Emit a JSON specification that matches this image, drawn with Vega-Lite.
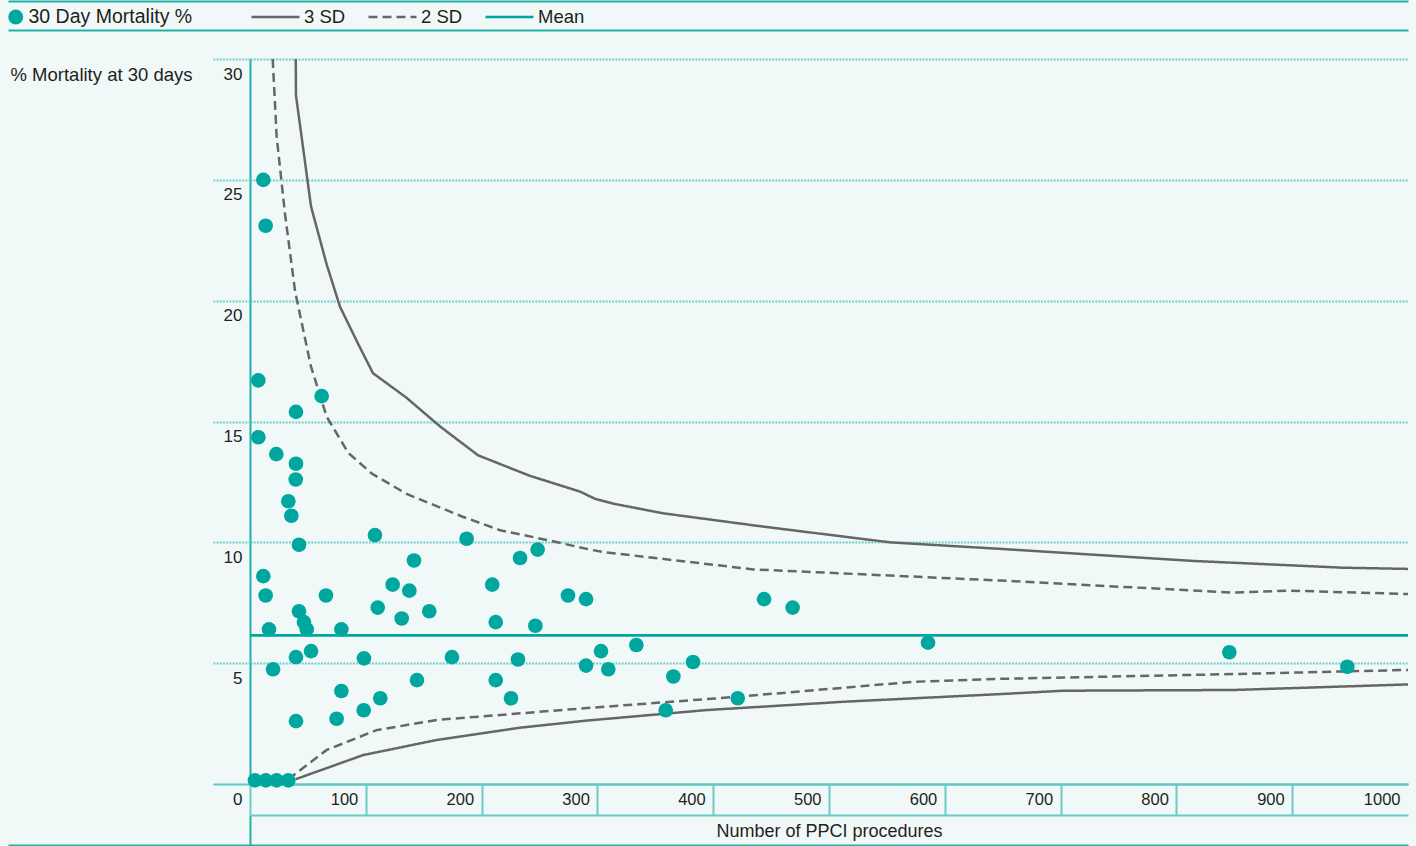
{
  "$schema": "https://vega.github.io/schema/vega-lite/v6.json",
  "width": 1158,
  "height": 846,
  "autosize": {"type": "none"},
  "padding": {"left": 250, "top": 0, "right": 8, "bottom": 0},
  "background": "#f1f9f8",
  "config": {
    "font": "Liberation Sans",
    "view": {"stroke": null},
    "axis": {"labelColor": "#231f20", "titleColor": "#231f20", "titleFontWeight": "normal"},
    "legend": {"labelColor": "#231f20", "labelFontSize": 18.5, "labelLimit": 400, "padding": 0, "titlePadding": 0}
  },
  "datasets": {
    "hospitals": [
      {"procedures": 11.5, "mortality": 25.0}, {"procedures": 13.5, "mortality": 23.1},
      {"procedures": 7.2, "mortality": 16.7}, {"procedures": 39.7, "mortality": 15.4},
      {"procedures": 61.9, "mortality": 16.05}, {"procedures": 7.2, "mortality": 14.35},
      {"procedures": 22.7, "mortality": 13.65}, {"procedures": 39.7, "mortality": 13.25},
      {"procedures": 39.5, "mortality": 12.6}, {"procedures": 33.1, "mortality": 11.7},
      {"procedures": 35.7, "mortality": 11.1}, {"procedures": 42.3, "mortality": 9.9},
      {"procedures": 107.9, "mortality": 10.3}, {"procedures": 187.1, "mortality": 10.15},
      {"procedures": 141.6, "mortality": 9.25}, {"procedures": 233.2, "mortality": 9.35},
      {"procedures": 248.4, "mortality": 9.7}, {"procedures": 11.5, "mortality": 8.6},
      {"procedures": 13.5, "mortality": 7.8}, {"procedures": 65.6, "mortality": 7.8},
      {"procedures": 123.2, "mortality": 8.25}, {"procedures": 137.6, "mortality": 8.0},
      {"procedures": 209.2, "mortality": 8.25}, {"procedures": 274.6, "mortality": 7.8},
      {"procedures": 290.2, "mortality": 7.65}, {"procedures": 110.3, "mortality": 7.3},
      {"procedures": 154.8, "mortality": 7.15}, {"procedures": 42.3, "mortality": 7.15},
      {"procedures": 46.6, "mortality": 6.7}, {"procedures": 49.0, "mortality": 6.4},
      {"procedures": 16.4, "mortality": 6.4}, {"procedures": 78.9, "mortality": 6.4},
      {"procedures": 131.0, "mortality": 6.85}, {"procedures": 212.2, "mortality": 6.7},
      {"procedures": 246.4, "mortality": 6.55}, {"procedures": 52.7, "mortality": 5.5},
      {"procedures": 39.7, "mortality": 5.25}, {"procedures": 98.4, "mortality": 5.2},
      {"procedures": 174.4, "mortality": 5.25}, {"procedures": 231.4, "mortality": 5.15},
      {"procedures": 290.2, "mortality": 4.9}, {"procedures": 19.9, "mortality": 4.75},
      {"procedures": 144.2, "mortality": 4.3}, {"procedures": 212.2, "mortality": 4.3},
      {"procedures": 78.9, "mortality": 3.85}, {"procedures": 112.5, "mortality": 3.55},
      {"procedures": 225.4, "mortality": 3.55}, {"procedures": 98.2, "mortality": 3.05},
      {"procedures": 74.8, "mortality": 2.7}, {"procedures": 39.7, "mortality": 2.6},
      {"procedures": 4.3, "mortality": 0.15}, {"procedures": 13.6, "mortality": 0.15},
      {"procedures": 23.0, "mortality": 0.15}, {"procedures": 33.1, "mortality": 0.15},
      {"procedures": 303.1, "mortality": 5.5}, {"procedures": 309.4, "mortality": 4.75},
      {"procedures": 333.6, "mortality": 5.75}, {"procedures": 365.6, "mortality": 4.45},
      {"procedures": 382.6, "mortality": 5.05}, {"procedures": 359.0, "mortality": 3.05},
      {"procedures": 421.2, "mortality": 3.55}, {"procedures": 443.9, "mortality": 7.65},
      {"procedures": 468.6, "mortality": 7.3}, {"procedures": 585.5, "mortality": 5.85},
      {"procedures": 845.7, "mortality": 5.45}, {"procedures": 947.6, "mortality": 4.85}
    ],
    "limits": [
      {"series": "3 SD", "limit": "upper", "procedures": 39.5, "mortality": 30.0},
      {"series": "3 SD", "limit": "upper", "procedures": 39.7, "mortality": 28.5},
      {"series": "3 SD", "limit": "upper", "procedures": 52.7, "mortality": 23.9},
      {"series": "3 SD", "limit": "upper", "procedures": 66.2, "mortality": 21.5},
      {"series": "3 SD", "limit": "upper", "procedures": 77.7, "mortality": 19.75},
      {"series": "3 SD", "limit": "upper", "procedures": 93.5, "mortality": 18.2},
      {"series": "3 SD", "limit": "upper", "procedures": 106.2, "mortality": 17.0},
      {"series": "3 SD", "limit": "upper", "procedures": 134.7, "mortality": 16.0},
      {"series": "3 SD", "limit": "upper", "procedures": 164.0, "mortality": 14.8},
      {"series": "3 SD", "limit": "upper", "procedures": 197.0, "mortality": 13.6},
      {"series": "3 SD", "limit": "upper", "procedures": 241.8, "mortality": 12.75},
      {"series": "3 SD", "limit": "upper", "procedures": 285.0, "mortality": 12.1},
      {"series": "3 SD", "limit": "upper", "procedures": 298.0, "mortality": 11.8},
      {"series": "3 SD", "limit": "upper", "procedures": 313.7, "mortality": 11.6},
      {"series": "3 SD", "limit": "upper", "procedures": 357.0, "mortality": 11.2},
      {"series": "3 SD", "limit": "upper", "procedures": 443.3, "mortality": 10.65},
      {"series": "3 SD", "limit": "upper", "procedures": 552.7, "mortality": 10.0},
      {"series": "3 SD", "limit": "upper", "procedures": 647.7, "mortality": 9.73},
      {"series": "3 SD", "limit": "upper", "procedures": 814.6, "mortality": 9.23},
      {"series": "3 SD", "limit": "upper", "procedures": 944.1, "mortality": 8.95},
      {"series": "3 SD", "limit": "upper", "procedures": 1000, "mortality": 8.9},
      {"series": "3 SD", "limit": "lower", "procedures": 39.5, "mortality": 0.2},
      {"series": "3 SD", "limit": "lower", "procedures": 97.9, "mortality": 1.2},
      {"series": "3 SD", "limit": "lower", "procedures": 161.2, "mortality": 1.82},
      {"series": "3 SD", "limit": "lower", "procedures": 233.2, "mortality": 2.33},
      {"series": "3 SD", "limit": "lower", "procedures": 290.0, "mortality": 2.62},
      {"series": "3 SD", "limit": "lower", "procedures": 394.4, "mortality": 3.06},
      {"series": "3 SD", "limit": "lower", "procedures": 515.3, "mortality": 3.41},
      {"series": "3 SD", "limit": "lower", "procedures": 647.7, "mortality": 3.72},
      {"series": "3 SD", "limit": "lower", "procedures": 702.3, "mortality": 3.86},
      {"series": "3 SD", "limit": "lower", "procedures": 849.2, "mortality": 3.89},
      {"series": "3 SD", "limit": "lower", "procedures": 1000, "mortality": 4.12},
      {"series": "2 SD", "limit": "upper", "procedures": 19.6, "mortality": 30.0},
      {"series": "2 SD", "limit": "upper", "procedures": 23.0, "mortality": 26.8},
      {"series": "2 SD", "limit": "upper", "procedures": 30.2, "mortality": 23.6},
      {"series": "2 SD", "limit": "upper", "procedures": 38.9, "mortality": 20.4},
      {"series": "2 SD", "limit": "upper", "procedures": 52.5, "mortality": 17.3},
      {"series": "2 SD", "limit": "upper", "procedures": 66.2, "mortality": 15.2},
      {"series": "2 SD", "limit": "upper", "procedures": 84.9, "mortality": 13.7},
      {"series": "2 SD", "limit": "upper", "procedures": 105.1, "mortality": 12.85},
      {"series": "2 SD", "limit": "upper", "procedures": 135.3, "mortality": 12.0},
      {"series": "2 SD", "limit": "upper", "procedures": 184.2, "mortality": 11.05},
      {"series": "2 SD", "limit": "upper", "procedures": 216.0, "mortality": 10.5},
      {"series": "2 SD", "limit": "upper", "procedures": 256.2, "mortality": 10.1},
      {"series": "2 SD", "limit": "upper", "procedures": 293.6, "mortality": 9.7},
      {"series": "2 SD", "limit": "upper", "procedures": 305.1, "mortality": 9.6},
      {"series": "2 SD", "limit": "upper", "procedures": 434.7, "mortality": 8.88},
      {"series": "2 SD", "limit": "upper", "procedures": 647.7, "mortality": 8.42},
      {"series": "2 SD", "limit": "upper", "procedures": 849.2, "mortality": 7.92},
      {"series": "2 SD", "limit": "upper", "procedures": 898.0, "mortality": 8.0},
      {"series": "2 SD", "limit": "upper", "procedures": 1000, "mortality": 7.86},
      {"series": "2 SD", "limit": "lower", "procedures": 33.1, "mortality": 0.2},
      {"series": "2 SD", "limit": "lower", "procedures": 66.2, "mortality": 1.41},
      {"series": "2 SD", "limit": "lower", "procedures": 109.4, "mortality": 2.23},
      {"series": "2 SD", "limit": "lower", "procedures": 161.2, "mortality": 2.65},
      {"series": "2 SD", "limit": "lower", "procedures": 285.0, "mortality": 3.12},
      {"series": "2 SD", "limit": "lower", "procedures": 421.2, "mortality": 3.61},
      {"series": "2 SD", "limit": "lower", "procedures": 572.8, "mortality": 4.23},
      {"series": "2 SD", "limit": "lower", "procedures": 647.7, "mortality": 4.35},
      {"series": "2 SD", "limit": "lower", "procedures": 849.2, "mortality": 4.55},
      {"series": "2 SD", "limit": "lower", "procedures": 1000, "mortality": 4.72}
    ],
    "mean": [
      {"series": "Mean", "procedures": 0, "mortality": 6.15},
      {"series": "Mean", "procedures": 1000, "mortality": 6.15}
    ]
  },
  "layer": [
    {
      "data": {"name": "limits"},
      "mark": {"type": "line", "strokeWidth": 2.5},
      "encoding": {
        "x": {
          "field": "procedures", "type": "quantitative",
          "scale": {"domain": [0, 1000], "nice": false, "zero": false},
          "axis": {
            "orient": "bottom", "offset": -62, "values": [0],
            "domain": false, "grid": false, "labels": false, "title": null,
            "ticks": true, "tickSize": -725, "tickColor": "#22b0a8", "tickWidth": 2
          }
        },
        "y": {
          "field": "mortality", "type": "quantitative",
          "scale": {"domain": [-2.5655, 32.4414], "nice": false, "zero": false},
          "axis": {
            "orient": "left", "values": [32.4, 31.2, -2.52],
            "domain": false, "labels": false, "title": null,
            "grid": true, "gridColor": "#22b0a8", "gridWidth": 2,
            "ticks": true, "tickSize": 242, "tickColor": "#22b0a8", "tickWidth": 2
          }
        },
        "detail": {"field": "limit"},
        "stroke": {
          "field": "series", "type": "nominal",
          "scale": {"domain": ["3 SD", "2 SD", "Mean"], "range": ["#666666", "#666666", "#00a79f"]},
          "legend": {
            "orient": "none", "legendX": 0, "legendY": -8.5, "direction": "horizontal",
            "title": null, "symbolType": "stroke", "symbolSize": 2304, "symbolStrokeWidth": 2.5,
            "labelOffset": 3, "columnPadding": 17
          }
        },
        "strokeDash": {
          "field": "series", "type": "nominal",
          "scale": {"domain": ["3 SD", "2 SD", "Mean"], "range": [[1, 0], [9, 5], [1, 0]]},
          "legend": {
            "orient": "none", "legendX": 0, "legendY": -8.5, "direction": "horizontal",
            "title": null, "symbolType": "stroke", "symbolSize": 2304, "symbolStrokeWidth": 2.5,
            "labelOffset": 3, "columnPadding": 17
          }
        }
      }
    },
    {
      "data": {"name": "mean"},
      "mark": {"type": "line", "strokeWidth": 2.8},
      "encoding": {
        "x": {
          "field": "procedures", "type": "quantitative",
          "scale": {"domain": [0, 1000], "nice": false, "zero": false},
          "axis": {
            "orient": "bottom", "offset": -31, "values": [0],
            "domain": true, "domainColor": "#6ccbc5", "domainWidth": 2,
            "grid": false, "labels": false, "title": null,
            "ticks": true, "tickSize": 31, "tickColor": "#22b0a8", "tickWidth": 2
          }
        },
        "y": {
          "field": "mortality", "type": "quantitative",
          "scale": {"domain": [-2.5655, 32.4414], "nice": false, "zero": false},
          "axis": null
        },
        "stroke": {
          "field": "series", "type": "nominal",
          "scale": {"domain": ["3 SD", "2 SD", "Mean"], "range": ["#666666", "#666666", "#00a79f"]},
          "legend": {
            "orient": "none", "legendX": 0, "legendY": -8.5, "direction": "horizontal",
            "title": null, "symbolType": "stroke", "symbolSize": 2304, "symbolStrokeWidth": 2.5,
            "labelOffset": 3, "columnPadding": 17
          }
        },
        "strokeDash": {
          "field": "series", "type": "nominal",
          "scale": {"domain": ["3 SD", "2 SD", "Mean"], "range": [[1, 0], [9, 5], [1, 0]]},
          "legend": {
            "orient": "none", "legendX": 0, "legendY": -8.5, "direction": "horizontal",
            "title": null, "symbolType": "stroke", "symbolSize": 2304, "symbolStrokeWidth": 2.5,
            "labelOffset": 3, "columnPadding": 17
          }
        }
      }
    },
    {
      "data": {"name": "hospitals"},
      "mark": {"type": "point", "filled": true, "size": 215, "opacity": 1},
      "encoding": {
        "x": {
          "field": "procedures", "type": "quantitative",
          "scale": {"domain": [0, 1000], "nice": false, "zero": false},
          "axis": {
            "orient": "bottom", "offset": -62,
            "values": [0, 100, 200, 300, 400, 500, 600, 700, 800, 900, 1000],
            "format": "d",
            "domain": true, "domainColor": "#5ec7c1", "domainWidth": 2,
            "grid": false,
            "ticks": true, "tickSize": 31, "tickColor": "#6ccbc5", "tickWidth": 2,
            "tickOpacity": {"condition": {"test": "datum.value >= 1000", "value": 0}, "value": 1},
            "labels": true, "labelAlign": "right", "labelBaseline": "middle",
            "labelOffset": -8, "labelPadding": -16, "labelFontSize": 16.5,
            "labelExpr": "datum.value == 0 ? '' : datum.label",
            "title": "Number of PPCI procedures", "titleFontSize": 18,
            "titleY": 47, "titleBaseline": "middle"
          }
        },
        "y": {
          "field": "mortality", "type": "quantitative",
          "scale": {"domain": [-2.5655, 32.4414], "nice": false, "zero": false},
          "axis": {
            "orient": "left", "values": [0, 5, 10, 15, 20, 25, 30],
            "domain": false,
            "grid": true,
            "gridColor": {"condition": {"test": "datum.value == 0", "value": "#5ec7c1"}, "value": "#72cec8"},
            "gridDash": {"condition": {"test": "datum.value == 0", "value": [1, 0]}, "value": [2, 1.2]},
            "gridWidth": {"condition": {"test": "datum.value == 0", "value": 2}, "value": 1.8},
            "ticks": true, "tickSize": 37,
            "tickColor": {"condition": {"test": "datum.value == 0", "value": "#5ec7c1"}, "value": "#72cec8"},
            "tickDash": {"condition": {"test": "datum.value == 0", "value": [1, 0]}, "value": [2, 1.2]},
            "tickWidth": {"condition": {"test": "datum.value == 0", "value": 2}, "value": 1.8},
            "labels": true, "labelAlign": "right", "labelBaseline": "middle",
            "labelOffset": 15, "labelPadding": -29, "labelFontSize": 17,
            "title": "% Mortality at 30 days", "titleAngle": 0, "titleAlign": "left",
            "titleBaseline": "middle", "titleX": -240, "titleY": 74, "titleFontSize": 18.5
          }
        },
        "fill": {
          "datum": "30 Day Mortality %", "type": "nominal",
          "scale": {"range": ["#00a79f"]},
          "legend": {
            "orient": "none", "legendX": -244, "legendY": 7.25, "title": null,
            "symbolType": "circle", "symbolSize": 225, "symbolStrokeWidth": 0,
            "labelOffset": 3, "labelFontSize": 19.5, "labelLimit": 400
          }
        }
      }
    }
  ],
  "resolve": {"axis": {"x": "independent", "y": "independent"}}
}
